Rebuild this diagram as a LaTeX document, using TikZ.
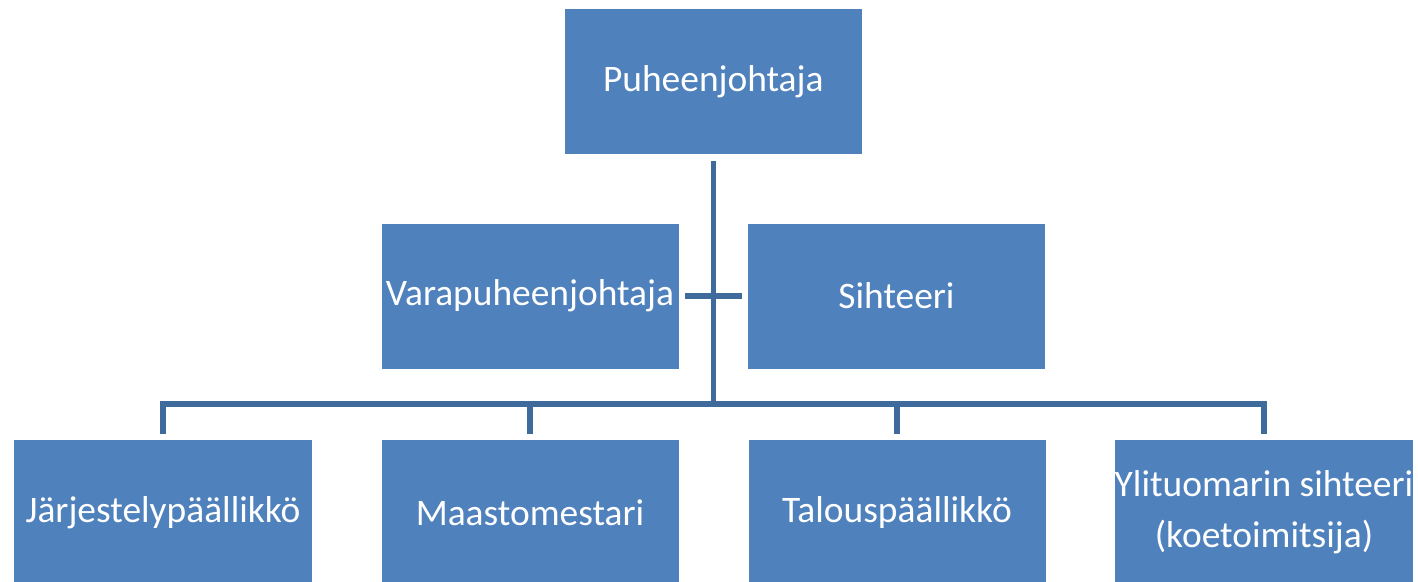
\documentclass[tikz,border=0pt]{standalone}
\usepackage{fontspec}
\setmainfont{Carlito}
\usepackage{xcolor}
\usepackage{tikz}
\tikzset{rounded corners=0}
\definecolor{boxblue}{RGB}{79,129,189}
\definecolor{lineblue}{RGB}{62,106,156}

\begin{document}
\begin{tikzpicture}[x=0.2mm,y=-0.2mm,
	post/.style={fill=boxblue,text=white,minimum width=59.4mm,minimum height=29mm,
		inner sep=0pt,align=center,font=\fontsize{21.3}{29}\selectfont},
	conn/.style={draw=lineblue,line width=1.1mm}]
	\useasboundingbox (0,0) rectangle (1418,581);
	\node[post] (pj) at (713.3,81.5) {Puheenjohtaja};
	\node[post] (vpj) at (530,296) {Varapuheenjohtaja};
	\node[post] (siht) at (896.5,296) {Sihteeri};
	\node[post] (jp) at (163,512.5) {Järjestelypäällikkö};
	\node[post] (mm) at (530,512.5) {Maastomestari};
	\node[post] (tp) at (897,512.5) {Talouspäällikkö};
	\node[post] (yts) at (1264,512.5) {Ylituomarin sihteeri\\(koetoimitsija)};
	\coordinate (hub) at (713.3,404);
	\draw[conn,shorten <=1.3mm] (pj.south)--(pj.south |- hub);
	\draw[conn] ([xshift=1.2mm]vpj.east)--([xshift=-1.2mm]siht.west);
	\draw[conn] ([yshift=1.2mm]jp.north)--(jp.north |- hub)--(yts.north |- hub)--([yshift=1.2mm]yts.north);
	\draw[conn] ([yshift=1.2mm]mm.north)--(mm.north |- hub);
	\draw[conn] ([yshift=1.2mm]tp.north)--(tp.north |- hub);
\end{tikzpicture}
\end{document}
